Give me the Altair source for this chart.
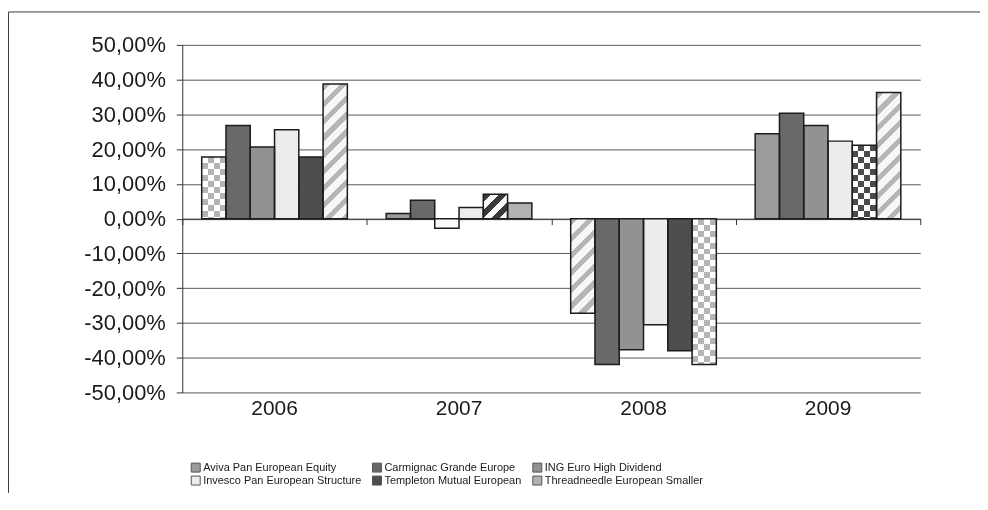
import altair as alt
import pandas as pd

# ---------------- data ----------------
years = ["2006", "2007", "2008", "2009"]
funds = [
    "Aviva Pan European Equity",
    "Carmignac Grande Europe",
    "ING Euro High Dividend",
    "Invesco Pan European Structure",
    "Templeton Mutual European",
    "Threadneedle European Smaller",
]
aviva = [17.7, 1.5, -27.2, 24.4]
carmignac = [26.8, 5.3, -42.0, 30.3]
ing = [20.6, -2.8, -37.7, 26.8]
invesco = [25.6, 3.2, -30.5, 22.3]
templeton = [17.7, 7.0, -38.0, 21.1]
threadneedle = [38.7, 4.5, -42.0, 36.3]
y_ticks = [-50, -40, -30, -20, -10, 0, 10, 20, 30, 40, 50]

series = [aviva, carmignac, ing, invesco, templeton, threadneedle]
rows = [{"year": y, "fund": f, "value": v}
        for f, vals in zip(funds, series) for y, v in zip(years, vals)]
df = pd.DataFrame(rows)

# ---------------- style ----------------
fund_colors = ["#9b9b9b", "#69696b", "#929294", "#ececec", "#4d4e50", "#b2b2b2"]
# per-bar fill patterns (year, fund index) -> pattern kind
patterns = {
    ("2006", 0): "dots_light",
    ("2006", 5): "hatch_light",
    ("2007", 2): "blank",
    ("2007", 4): "hatch_dark",
    ("2008", 0): "hatch_light",
    ("2008", 5): "dots_light",
    ("2009", 4): "dots_dark",
    ("2009", 5): "hatch_light",
}

W, H = 741, 349
Y_MIN, Y_MAX = -50, 50
PX = H / (Y_MAX - Y_MIN)
PAD_OUTER = 0.8
BAR_W = (W / len(years)) / (len(funds) + 2 * PAD_OUTER)
ZERO_FROM_BOTTOM = (0 - Y_MIN) * PX


def band_stops(n, duty, on, off):
    stops = []
    k = 0
    while k < n:
        a = k / n
        b = min((k + duty) / n, 1.0)
        c = min((k + 1) / n, 1.0)
        stops += [{"offset": round(a, 5), "color": on}, {"offset": round(b, 5), "color": on}]
        if b < 1.0:
            stops += [{"offset": round(b, 5), "color": off}, {"offset": round(c, 5), "color": off}]
        k += 1
    return stops


def hatch(h, w, period, duty, on, off):
    r = w / h
    k = (1 + r) / (1 + r * r)
    n = (h + w) / period
    return {"gradient": "linear", "x1": 0, "y1": 0, "x2": k * r, "y2": k,
            "stops": band_stops(n, duty, on, off)}


def cols(w, period, on, off):
    return {"gradient": "linear", "x1": 0, "y1": 0, "x2": 1, "y2": 0,
            "stops": band_stops(w / period, 0.5, on, off)}


def rows_g(h, period, on, off):
    return {"gradient": "linear", "x1": 0, "y1": 0, "x2": 0, "y2": 1,
            "stops": band_stops(h / period, 0.5, on, off)}


# ---------------- encodings ----------------
X = alt.X(
    "year:N", sort=years,
    scale=alt.Scale(paddingInner=0, paddingOuter=0),
    axis=alt.Axis(title=None, labels=False, orient="bottom", offset=-ZERO_FROM_BOTTOM,
                  domain=True, domainColor="#333333", domainWidth=1,
                  ticks=True, tickColor="#333333", tickSize=6, tickBand="extent",
                  grid=False),
)
XO = alt.XOffset("fund:N", sort=funds,
                 scale=alt.Scale(paddingInner=0, paddingOuter=PAD_OUTER))
label_expr = ("(datum.value < 0 ? '-' : '') + "
              "replace(format(abs(datum.value), '.2f'), '.', ',') + '%'")
Y = alt.Y(
    "value:Q",
    scale=alt.Scale(domain=[Y_MIN, Y_MAX], nice=False, zero=False),
    axis=alt.Axis(title=None, values=y_ticks, labelExpr=label_expr,
                  grid=True, gridColor="#5a5a5a", gridWidth=1,
                  domainColor="#333333", tickColor="#333333", tickSize=6,
                  labelFont="Liberation Sans", labelFontSize=22, labelColor="#1a1a1a",
                  labelPadding=11),
)

frame = alt.Chart(pd.DataFrame({"f": [0]})).mark_rect(
    fillOpacity=0, stroke="#3a3a3a", strokeWidth=1
).encode(
    x=alt.value(-174.5), x2=alt.value(W + 600),
    y=alt.value(-33), y2=alt.value(H + 600),
)

base = alt.Chart(df).mark_bar().encode(
    x=X, xOffset=XO, y=Y,
    color=alt.Color(
        "fund:N", sort=funds,
        scale=alt.Scale(domain=funds, range=fund_colors),
        legend=alt.Legend(
            title=None, orient="none", legendX=8, legendY=419,
            direction="horizontal", columns=3,
            symbolType="square", symbolSize=81,
            symbolStrokeColor="#555555", symbolStrokeWidth=1,
            labelFont="Liberation Sans", labelFontSize=11, labelColor="#1a1a1a",
            labelLimit=0, labelOffset=2, columnPadding=9, rowPadding=0, padding=0,
        ),
    ),
)


def overlay(year, fund, fill, blend=None):
    kw = {"fill": fill}
    if blend:
        kw["blend"] = blend
    return alt.Chart(df).transform_filter(
        (alt.datum.year == year) & (alt.datum.fund == fund)
    ).mark_bar(**kw).encode(x=X, xOffset=XO, y=Y)


overlays = []
for (year, fi), kind in patterns.items():
    fund = funds[fi]
    val = series[fi][years.index(year)]
    h = abs(val) * PX
    w = BAR_W
    if kind == "hatch_light":
        overlays.append(overlay(year, fund, hatch(h, w, 17, 0.42, "#b6b6b6", "#f7f7f7")))
    elif kind == "hatch_dark":
        overlays.append(overlay(year, fund, hatch(h, w, 16, 0.5, "#3a3a3a", "#fafafa")))
    elif kind == "blank":
        overlays.append(overlay(year, fund, "#fbfbfb"))
    elif kind in ("dots_light", "dots_dark"):
        g = "#4b4b4b" if kind == "dots_light" else "#b4b4b4"
        overlays.append(overlay(year, fund, cols(w, 12, g, "#000000")))
        overlays.append(overlay(year, fund, rows_g(h, 12, g, "#000000"), blend="difference"))
        overlays.append(overlay(year, fund, "#ffffff", blend="difference"))

outline = alt.Chart(df).mark_bar(filled=False, stroke="#1c1c1c", strokeWidth=1.5).encode(
    x=X, xOffset=XO, y=Y
)

year_labels = alt.Chart(pd.DataFrame({"year": years})).mark_text(
    font="Liberation Sans", fontSize=21, color="#1a1a1a", baseline="middle"
).encode(x=X, y=alt.value(H + 17), text="year:N")

chart = alt.layer(frame, base, *overlays, outline, year_labels).properties(
    width=W, height=H,
    padding={"left": 175, "top": 36, "right": 60, "bottom": 100},
    autosize=alt.AutoSizeParams(type="none"),
    background="white",
).configure_view(stroke=None)

chart.save("out.html", embed_options={"renderer": "svg", "actions": False})
